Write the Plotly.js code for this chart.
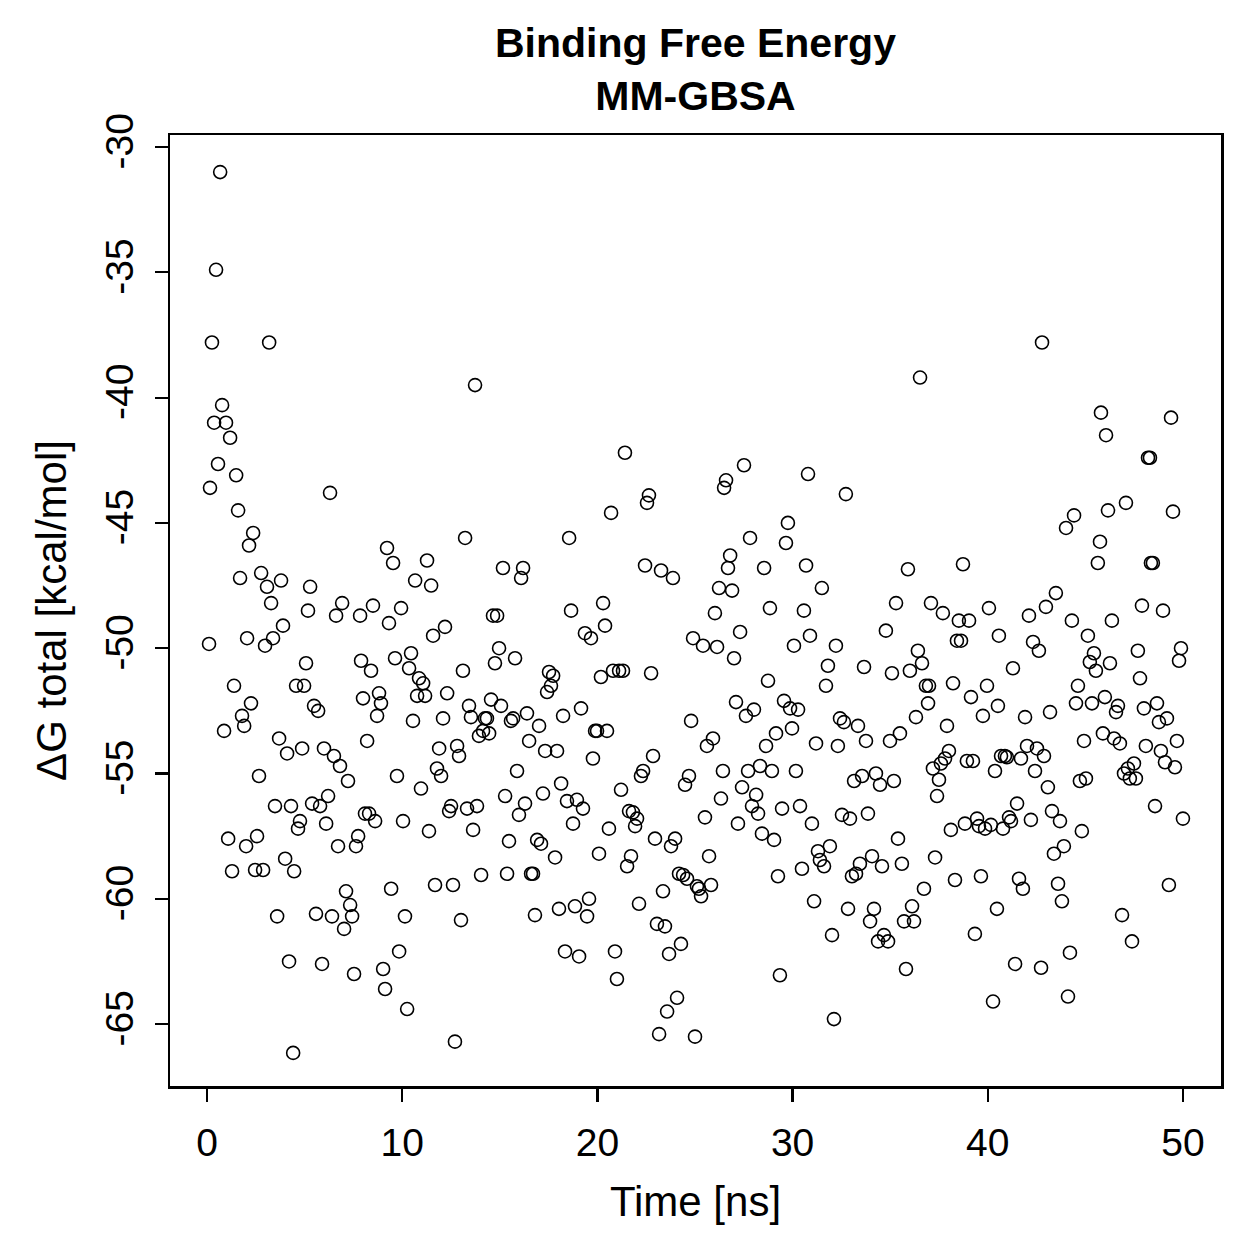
<!DOCTYPE html>
<html>
<head>
<meta charset="utf-8">
<script src="https://cdn.plot.ly/plotly-3.0.1.min.js"></script>
<style>html,body{margin:0;padding:0;background:#fff;}#chart{width:1259px;height:1259px;}</style>
</head>
<body>
<div id="chart"></div>
<script>
const time = [0.1,0.15,0.25,0.36,0.46,0.56,0.67,0.77,0.87,0.97,1.08,1.18,1.28,1.38,1.49,1.59,1.69,1.79,1.9,2.0,2.05,2.15,2.25,2.36,2.46,2.56,2.66,2.77,2.87,2.97,3.07,3.18,3.28,3.38,3.48,3.59,3.69,3.79,3.89,4.0,4.1,4.2,4.3,4.41,4.46,4.56,4.66,4.76,4.87,4.97,5.07,5.17,5.28,5.38,5.48,5.58,5.69,5.79,5.89,5.99,6.1,6.2,6.3,6.4,6.5,6.61,6.71,6.81,6.92,7.02,7.12,7.22,7.33,7.43,7.53,7.63,7.74,7.84,7.89,7.99,8.09,8.2,8.3,8.4,8.5,8.61,8.71,8.81,8.91,9.02,9.12,9.22,9.32,9.43,9.53,9.63,9.73,9.84,9.94,10.04,10.14,10.25,10.35,10.45,10.55,10.66,10.76,10.86,10.96,11.07,11.17,11.27,11.37,11.48,11.58,11.68,11.78,11.89,11.99,12.09,12.19,12.3,12.4,12.5,12.6,12.7,12.81,12.91,13.01,13.11,13.22,13.32,13.42,13.52,13.63,13.73,13.83,13.93,14.04,14.14,14.24,14.34,14.45,14.55,14.65,14.75,14.86,14.96,15.06,15.16,15.27,15.37,15.47,15.57,15.68,15.78,15.88,15.98,16.09,16.19,16.29,16.39,16.5,16.6,16.7,16.8,16.91,17.01,17.11,17.21,17.32,17.42,17.52,17.62,17.73,17.83,17.93,18.03,18.14,18.24,18.34,18.44,18.55,18.65,18.75,18.85,18.95,19.06,19.16,19.26,19.36,19.47,19.57,19.67,19.77,19.88,19.98,20.08,20.18,20.29,20.39,20.49,20.59,20.7,20.8,20.9,21.0,21.11,21.21,21.31,21.41,21.52,21.62,21.72,21.82,21.93,22.03,22.13,22.23,22.34,22.44,22.54,22.64,22.75,22.85,22.95,23.05,23.16,23.26,23.36,23.46,23.57,23.67,23.77,23.87,23.98,24.08,24.18,24.28,24.39,24.49,24.59,24.69,24.8,24.9,25.0,25.1,25.2,25.31,25.41,25.51,25.61,25.72,25.82,25.92,26.02,26.13,26.23,26.33,26.43,26.49,26.59,26.69,26.8,26.9,27.0,27.1,27.2,27.31,27.41,27.51,27.61,27.72,27.82,27.92,28.02,28.13,28.23,28.33,28.43,28.54,28.64,28.74,28.84,28.94,29.05,29.15,29.25,29.35,29.46,29.56,29.66,29.76,29.87,29.97,30.07,30.17,30.28,30.38,30.48,30.58,30.69,30.79,30.89,30.99,31.1,31.2,31.3,31.4,31.5,31.61,31.71,31.81,31.91,32.02,32.12,32.22,32.32,32.43,32.53,32.63,32.73,32.84,32.94,33.04,33.15,33.25,33.35,33.45,33.56,33.66,33.76,33.86,33.97,34.07,34.17,34.27,34.38,34.48,34.58,34.68,34.78,34.89,34.99,35.09,35.19,35.3,35.4,35.5,35.6,35.71,35.81,35.91,36.01,36.12,36.22,36.32,36.42,36.53,36.63,36.73,36.83,36.94,36.99,37.09,37.19,37.3,37.4,37.5,37.6,37.7,37.81,37.91,38.01,38.11,38.22,38.32,38.42,38.52,38.63,38.73,38.83,38.93,39.04,39.14,39.24,39.34,39.45,39.55,39.65,39.75,39.86,39.96,40.06,40.16,40.27,40.37,40.47,40.52,40.57,40.68,40.78,40.88,40.98,41.09,41.19,41.29,41.4,41.5,41.6,41.7,41.8,41.91,42.01,42.11,42.21,42.32,42.42,42.52,42.62,42.73,42.78,42.88,42.98,43.08,43.19,43.29,43.39,43.49,43.6,43.7,43.8,43.9,44.01,44.11,44.21,44.31,44.42,44.52,44.62,44.72,44.82,44.93,45.03,45.13,45.23,45.34,45.44,45.54,45.64,45.75,45.8,45.9,46.0,46.06,46.16,46.26,46.36,46.47,46.57,46.67,46.77,46.88,46.98,47.08,47.18,47.28,47.39,47.49,47.59,47.69,47.8,47.9,48.0,48.1,48.21,48.31,48.36,48.46,48.57,48.67,48.77,48.87,48.98,49.08,49.18,49.28,49.39,49.49,49.59,49.69,49.8,49.9,50.0];

const dG = [-49.83,-43.6,-37.8,-41.0,-34.9,-42.65,-31.0,-40.3,-53.3,-41.0,-57.6,-41.6,-58.9,-51.5,-43.1,-44.5,-47.2,-52.7,-53.1,-57.9,-49.6,-45.9,-52.2,-45.4,-58.85,-57.5,-55.1,-47.0,-58.85,-49.9,-47.55,-37.8,-48.2,-49.6,-56.3,-60.7,-53.6,-47.3,-49.1,-58.4,-54.2,-62.5,-56.3,-66.15,-58.9,-51.5,-57.2,-56.9,-54.0,-51.5,-50.6,-48.5,-47.55,-56.2,-52.3,-60.6,-52.5,-56.3,-62.6,-54.0,-57.0,-55.9,-43.8,-60.7,-54.3,-48.7,-57.9,-54.7,-48.2,-61.2,-59.7,-55.3,-60.25,-60.7,-63.0,-57.9,-57.5,-48.7,-50.5,-52.0,-56.6,-53.7,-56.6,-50.9,-48.3,-56.9,-52.7,-51.8,-52.2,-62.8,-63.6,-46.0,-49.0,-59.6,-46.6,-50.4,-55.1,-62.1,-48.4,-56.9,-60.7,-64.4,-50.8,-50.2,-52.9,-47.3,-51.9,-51.2,-55.6,-51.4,-51.9,-46.5,-57.3,-47.5,-49.5,-59.45,-54.8,-54.0,-55.1,-52.8,-49.15,-51.8,-56.5,-56.3,-59.45,-65.7,-53.9,-54.3,-60.85,-50.9,-45.6,-56.4,-52.3,-52.75,-57.25,-39.5,-56.3,-53.5,-59.05,-53.3,-52.8,-52.8,-53.4,-52.05,-48.7,-50.6,-48.7,-50.0,-52.3,-46.8,-55.9,-59.0,-57.7,-52.9,-52.8,-50.4,-54.9,-56.65,-47.2,-46.8,-56.2,-52.6,-53.7,-59.0,-59.0,-60.65,-57.65,-53.1,-57.8,-55.8,-54.1,-51.75,-50.95,-51.5,-51.1,-58.35,-54.1,-60.4,-55.4,-52.7,-62.1,-56.1,-45.6,-48.5,-57.0,-60.3,-56.05,-62.3,-52.4,-56.4,-49.4,-60.7,-60.0,-49.6,-54.4,-53.3,-53.3,-58.2,-51.15,-48.2,-49.1,-53.3,-57.2,-44.6,-50.9,-62.1,-63.2,-50.9,-55.65,-50.9,-42.2,-58.7,-56.5,-58.3,-56.55,-57.1,-56.8,-60.2,-55.1,-54.9,-46.7,-44.2,-43.9,-51.0,-54.3,-57.6,-61.0,-65.4,-46.9,-59.7,-61.1,-64.5,-62.2,-57.9,-47.2,-57.6,-63.95,-59.0,-61.8,-59.05,-55.45,-59.2,-55.1,-52.9,-49.6,-65.5,-59.5,-59.6,-59.9,-49.9,-56.75,-53.9,-58.3,-59.45,-53.6,-48.6,-49.95,-47.6,-56.0,-54.9,-43.6,-43.3,-46.8,-46.3,-47.7,-50.4,-52.15,-57.0,-49.35,-55.55,-42.7,-52.7,-54.9,-45.6,-56.3,-52.45,-55.85,-56.6,-54.7,-57.4,-46.8,-53.9,-51.3,-48.4,-54.9,-57.65,-53.4,-59.1,-63.05,-56.4,-52.1,-45.8,-45.0,-52.4,-53.2,-49.9,-54.9,-52.45,-56.3,-58.8,-48.5,-46.7,-43.05,-49.5,-57.0,-60.1,-53.8,-58.1,-58.45,-47.6,-58.7,-51.5,-50.7,-57.9,-61.45,-64.8,-49.9,-53.9,-52.8,-56.65,-52.95,-43.85,-60.4,-56.8,-59.1,-55.3,-59.0,-53.1,-58.6,-55.1,-50.75,-53.7,-56.6,-60.9,-58.3,-60.4,-55.0,-61.7,-55.45,-58.7,-61.45,-49.3,-61.7,-53.7,-51.0,-55.3,-48.2,-57.6,-53.4,-58.6,-60.9,-62.8,-46.85,-50.9,-60.3,-60.9,-52.75,-50.1,-39.2,-50.6,-59.6,-51.5,-52.2,-51.5,-48.2,-54.8,-58.35,-55.9,-55.25,-54.6,-48.6,-54.4,-53.1,-54.1,-57.25,-51.4,-59.25,-49.7,-48.9,-49.7,-46.65,-57.0,-54.5,-48.9,-51.95,-54.5,-61.4,-56.8,-57.1,-59.1,-52.7,-57.2,-51.5,-48.4,-57.05,-64.1,-54.9,-60.4,-52.3,-49.5,-54.3,-57.2,-54.3,-54.35,-56.75,-56.9,-50.8,-62.6,-56.2,-59.2,-54.4,-59.6,-52.75,-53.9,-48.7,-56.85,-49.75,-54.9,-54.0,-50.1,-62.75,-37.8,-54.3,-48.35,-55.55,-52.55,-56.5,-58.2,-47.8,-59.4,-56.9,-60.1,-57.9,-45.2,-63.9,-62.15,-48.9,-44.7,-52.2,-51.5,-55.3,-57.3,-53.7,-55.2,-49.5,-50.55,-52.2,-50.2,-50.9,-46.6,-45.75,-40.6,-53.4,-51.95,-41.5,-44.5,-50.6,-48.9,-53.6,-52.55,-52.3,-53.8,-60.65,-55.0,-44.2,-54.8,-55.2,-61.7,-54.6,-55.2,-50.1,-51.2,-48.3,-52.4,-53.9,-42.4,-42.4,-46.6,-46.6,-56.3,-52.2,-52.95,-54.1,-48.5,-54.55,-52.8,-59.45,-40.8,-44.55,-54.75,-53.7,-50.5,-50.0,-56.8];

const xTicks = [0, 10, 20, 30, 40, 50];
const yTicks = [-30, -35, -40, -45, -50, -55, -60, -65];

const font = 'Liberation Sans, Arial, Helvetica, sans-serif';

const trace = {
  x: time,
  y: dG,
  type: 'scatter',
  mode: 'markers',
  marker: {symbol: 'circle-open', size: 13, color: '#000', line: {width: 1.6, color: '#000'}},
  hoverinfo: 'x+y'
};

const layout = {
  width: 1259,
  height: 1259,
  paper_bgcolor: '#fff',
  plot_bgcolor: '#fff',
  margin: {l: 170, r: 38, t: 135, b: 173},
  showlegend: false,
  font: {family: font, color: '#000', size: 40},
  title: {
    text: '<b>Binding Free Energy</b><br><b>MM-GBSA</b>',
    font: {family: font, size: 41, color: '#000'},
    xref: 'paper', x: 0.5, xanchor: 'center',
    yref: 'container', y: 0.955, yanchor: 'middle'
  },
  xaxis: {
    range: [-1.9, 51.95],
    tickvals: xTicks,
    ticktext: xTicks.map(String),
    ticks: 'outside', ticklen: 13, tickwidth: 2.2, tickcolor: '#000',
    showline: true, linewidth: 2.5, linecolor: '#000', mirror: true,
    showgrid: false, zeroline: false,
    ticklabelstandoff: 8,
    tickfont: {family: font, size: 39, color: '#000'},
    title: {text: 'Time [ns]', font: {family: font, size: 42, color: '#000'}, standoff: 24}
  },
  yaxis: {
    range: [-67.47, -29.52],
    tickvals: yTicks,
    ticktext: yTicks.map(String),
    tickangle: -90,
    ticks: 'outside', ticklen: 13, tickwidth: 2.2, tickcolor: '#000',
    showline: true, linewidth: 2.5, linecolor: '#000', mirror: true,
    showgrid: false, zeroline: false,
    ticklabelstandoff: 6,
    tickfont: {family: font, size: 39, color: '#000'},
    title: {text: 'ΔG total [kcal/mol]', font: {family: font, size: 42, color: '#000'}, standoff: 18}
  }
};

Plotly.newPlot('chart', [trace], layout, {displayModeBar: false, staticPlot: true});
</script>
</body>
</html>
